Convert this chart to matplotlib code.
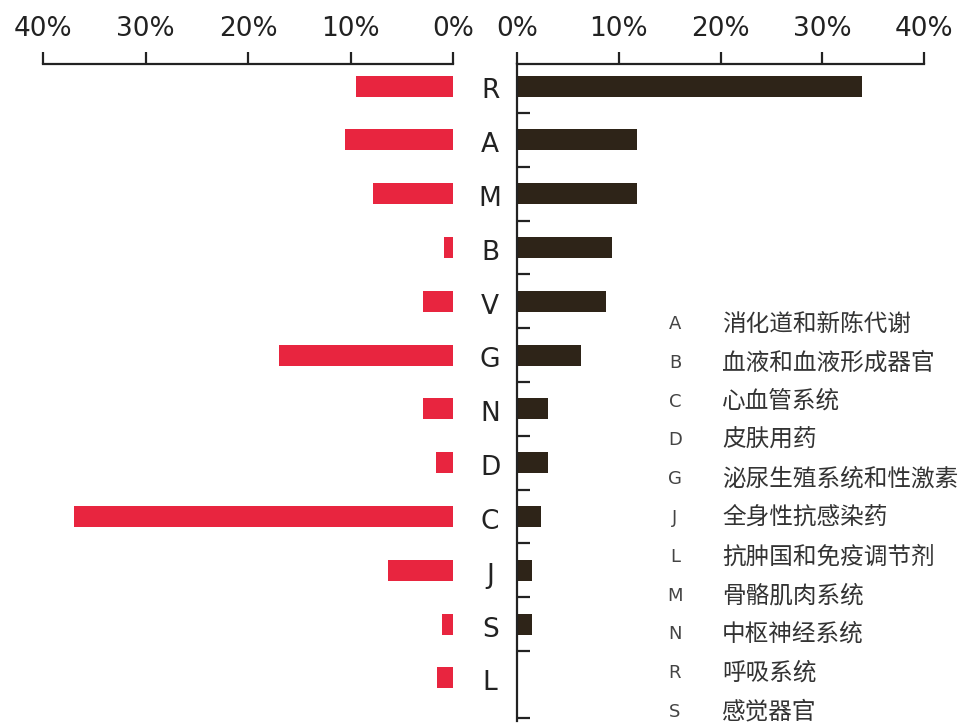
import matplotlib
matplotlib.use("Agg")
import matplotlib.pyplot as plt
from matplotlib.ticker import FuncFormatter
from matplotlib.transforms import blended_transform_factory

plt.rcParams['font.family'] = ['DejaVu Sans', 'Noto Sans CJK SC']

# categories top to bottom
cats = ['R', 'A', 'M', 'B', 'V', 'G', 'N', 'D', 'C', 'J', 'S', 'L']
# left (red) and right (dark) shares, in %
left_vals = [9.5, 10.5, 7.8, 0.9, 2.9, 17.0, 2.9, 1.7, 37.0, 6.3, 1.1, 1.6]
right_vals = [33.9, 11.8, 11.8, 9.3, 8.7, 6.3, 3.0, 3.0, 2.4, 1.5, 1.5, 0.0]

# legend: code -> name
leg_codes = ['A', 'B', 'C', 'D', 'G', 'J', 'L', 'M', 'N', 'R', 'S']
leg_names = ['消化道和新陈代谢', '血液和血液形成器官', '心血管系统', '皮肤用药',
             '泌尿生殖系统和性激素', '全身性抗感染药', '抗肿国和免疫调节剂',
             '骨骼肌肉系统', '中枢神经系统', '呼吸系统', '感觉器官']

ticks = [0, 10, 20, 30, 40]
red = '#e8253f'
dark = '#2e2418'
axcol = '#222222'

W, H = 973, 728
fig = plt.figure(figsize=(W / 100, H / 100), dpi=100)
bottom = 1 - 721 / H
height = (721 - 64) / H
axL = fig.add_axes([43 / W, bottom, (453 - 43) / W, height])
axR = fig.add_axes([517 / W, bottom, (924 - 517) / W, height])

y = list(range(len(cats)))
pct = FuncFormatter(lambda v, p: '%d%%' % v)

axL.barh(y, left_vals, height=0.39, color=red)
axL.set_xlim(40, 0)
axR.barh(y, right_vals, height=0.39, color=dark)
axR.set_xlim(0, 40)

for ax in (axL, axR):
    ax.set_ylim(11.8, -0.41)
    for s in ax.spines.values():
        s.set_visible(False)
    ax.spines['top'].set_visible(True)
    ax.spines['top'].set_color(axcol)
    ax.spines['top'].set_linewidth(1.6)
    ax.xaxis.tick_top()
    ax.set_xticks(ticks)
    ax.xaxis.set_major_formatter(pct)
    ax.tick_params(axis='x', direction='out', length=9, width=1.6,
                   color=axcol, labelsize=19, pad=7, labelcolor='#222222')
    ax.set_facecolor('none')

axL.set_yticks([])
axR.spines['left'].set_visible(True)
axR.spines['left'].set_color(axcol)
axR.spines['left'].set_linewidth(1.6)
axR.set_yticks([i + 0.5 for i in range(len(cats) - 1)] + [11.75])
axR.tick_params(axis='y', direction='in', length=9, width=1.6, color=axcol,
                labelleft=False)

trans = blended_transform_factory(axR.transAxes, axR.transData)
for i, c in enumerate(cats):
    axR.text(-0.066, i + 0.1, c, transform=trans, ha='center', va='center',
             fontsize=19, color='#222222', clip_on=False)

# legend text
for k, (code, name) in enumerate(zip(leg_codes, leg_names)):
    yy = 1 - (324 + k * 38.8) / H
    fig.text(675 / W, yy, code, ha='center', va='center', fontsize=13,
             color='#444444')
    fig.text(722 / W, yy, name, ha='left', va='center', fontsize=17,
             color='#333333', family=['Noto Sans CJK SC', 'DejaVu Sans'])

fig.savefig('out.png', dpi=100)
